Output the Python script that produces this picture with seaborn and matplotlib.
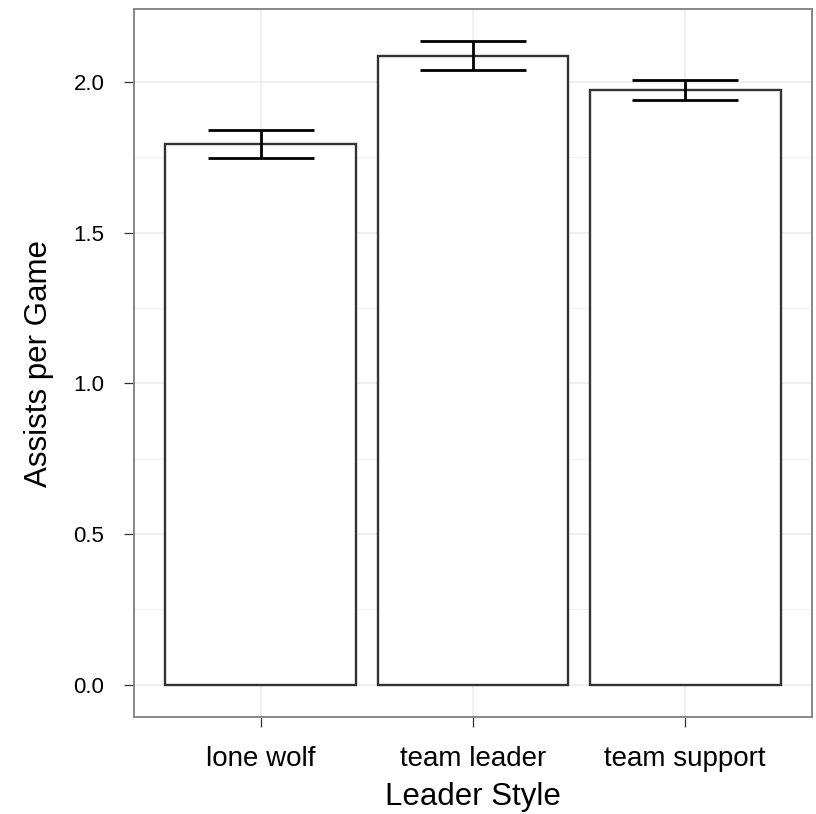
import matplotlib
matplotlib.use("Agg")
import matplotlib.pyplot as plt
import seaborn as sns
import pandas as pd
import numpy as np
from matplotlib.ticker import MultipleLocator, FormatStrFormatter

# Mean assists per game by leader style, with standard errors
styles = ["lone wolf", "team leader", "team support"]
means = [1.795, 2.087, 1.974]
ses = [0.046, 0.048, 0.034]

df = pd.DataFrame({"style": styles, "assists": means, "se": ses})

sns.set_theme(style="white")
plt.rcParams["font.family"] = ["Liberation Sans", "DejaVu Sans"]

fig = plt.figure(figsize=(8.16, 8.14), dpi=100)
ax = fig.add_axes([0.1638, 0.1192, 0.8317, 0.8694])

sns.barplot(data=df, x="style", y="assists", color="white", edgecolor="#333333",
            linewidth=1.7, width=0.9, errorbar=None, ax=ax, zorder=3)

# Error bars: whiskers and caps drawn in data coordinates
xpos = np.arange(len(styles))
lo = df["assists"] - df["se"]
hi = df["assists"] + df["se"]
ax.vlines(xpos, lo, hi, color="black", linewidth=2, zorder=4)
ax.hlines(lo, xpos - 0.25, xpos + 0.25, color="black", linewidth=2, zorder=4)
ax.hlines(hi, xpos - 0.25, xpos + 0.25, color="black", linewidth=2, zorder=4)

ymax = float(hi.max())
pad = ymax * 0.05
ax.set_ylim(-pad, ymax + pad)
ax.set_xlim(-0.6, len(styles) - 0.4)

ax.yaxis.set_major_locator(MultipleLocator(0.5))
ax.yaxis.set_minor_locator(MultipleLocator(0.25))
ax.yaxis.set_major_formatter(FormatStrFormatter("%.1f"))

ax.grid(True, which="major", color="#EBEBEB", linewidth=1.1, zorder=0)
ax.grid(True, which="minor", axis="y", color="#F3F3F3", linewidth=0.8, zorder=0)
ax.set_axisbelow(True)

for s in ax.spines.values():
    s.set_color("#7F7F7F")
    s.set_linewidth(1.3)

ax.tick_params(axis="both", which="major", direction="out", length=7.5, width=0.9,
               color="#333333", labelcolor="black", bottom=True, left=True)
ax.tick_params(axis="y", which="major", labelsize=16, pad=13.5)
ax.tick_params(axis="x", which="major", labelsize=20, pad=13.5)
ax.tick_params(axis="y", which="minor", left=False)

ax.set_xlabel("Leader Style", fontsize=22.5, color="black", labelpad=7)
ax.set_ylabel("Assists per Game", fontsize=22.5, color="black", labelpad=14)

fig.savefig("out.png", dpi=100, facecolor="white")
